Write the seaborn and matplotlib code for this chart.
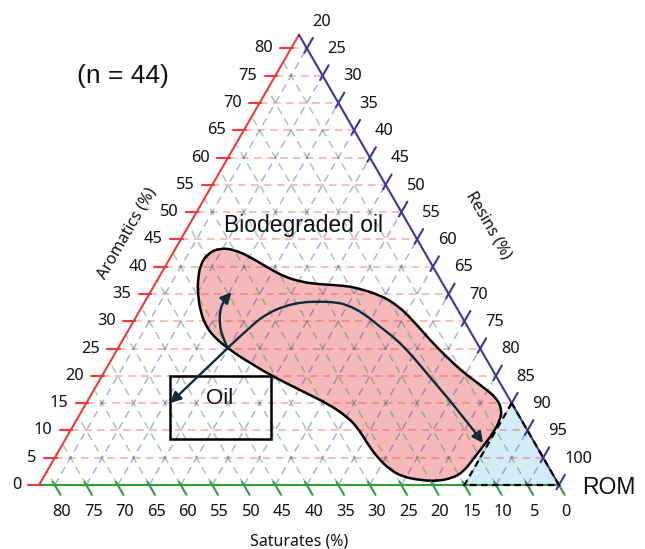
import numpy as np
import matplotlib
matplotlib.use("Agg")
import matplotlib.pyplot as plt
from matplotlib.path import Path
from matplotlib.patches import PathPatch, FancyArrowPatch, Polygon, Rectangle
import seaborn as sns

# ---- data (percent) ----
aro_ticks = [0, 5, 10, 15, 20, 25, 30, 35, 40, 45, 50, 55, 60, 65, 70, 75, 80]
sat_ticks = [80, 75, 70, 65, 60, 55, 50, 45, 40, 35, 30, 25, 20, 15, 10, 5, 0]
res_ticks = [20, 25, 30, 35, 40, 45, 50, 55, 60, 65, 70, 75, 80, 85, 90, 95, 100]

# biodegraded oil field outline (aromatics, saturates)
blob_aro = [37.2, 40.3, 42.5, 43.4, 43.1, 41.6, 39.8, 38.1, 37.2, 36.8, 36.5, 36.1,
            34.8, 33.0, 30.2, 26.6, 23.5, 20.7, 18.0, 15.9, 13.7, 11.9, 9.5, 7.0,
            4.6, 2.4, 1.3, 0.7, 0.9, 1.5, 2.8, 5.1, 7.7, 10.6, 12.5, 14.7, 17.4,
            20.2, 22.4, 23.3, 25.1, 26.9, 29.3, 32.4, 35.4]
blob_sat = [38.7, 36.8, 34.4, 32.1, 29.9, 27.9, 26.3, 24.4, 22.2, 19.8, 15.7, 14.0,
            11.0, 9.2, 8.1, 7.2, 6.1, 4.9, 3.1, 1.9, 2.2, 3.4, 5.7, 8.6,
            11.4, 14.0, 16.2, 19.0, 21.6, 24.0, 25.4, 26.3, 26.6, 26.7, 27.4, 29.0, 32.4,
            35.8, 37.8, 38.7, 40.0, 41.1, 41.5, 40.8, 39.6]

# biodegradation trend arrow
trend_aro = [25.1, 29.3, 31.5, 32.8, 33.5, 33.6, 33.5, 33.0, 31.5, 29.0, 26.6, 23.5,
             19.8, 16.1, 12.5, 9.2, 7.7]
trend_sat = [40.0, 34.1, 30.4, 27.1, 24.0, 21.4, 18.8, 17.1, 15.3, 13.9, 12.4, 11.4,
             10.6, 9.7, 9.0, 8.4, 8.2]

# short upward arrow
up_aro = [25.1, 27.5, 29.9, 31.8, 33.6, 35.3]
up_sat = [40.0, 39.8, 38.9, 37.9, 36.5, 34.3]

# arrow into oil box
oil_arrow_aro = [25.1, 15.0]
oil_arrow_sat = [40.0, 54.2]

# oil box corners (lower-left, upper-right)
oil_box_aro = [8.4, 20.0]
oil_box_sat = [57.5, 35.7]

# ROM field
rom_aro = [15, 0, 0]
rom_sat = [0, 15, 0]

n_samples = 44

# ---- ternary helpers ----
L = 82.5           # side of the plotted sub-triangle (resins >= 17.5)
S3 = np.sqrt(3) / 2


def tern(aro, sat):
    aro = np.asarray(aro, dtype=float)
    sat = np.asarray(sat, dtype=float)
    return L - sat - aro / 2, aro * S3


def smooth_path(xs, ys, closed=False):
    pts = np.column_stack([xs, ys])
    if closed:
        mids = (pts + np.roll(pts, -1, axis=0)) / 2
        verts = [mids[-1]]
        codes = [Path.MOVETO]
        for p, m in zip(pts, mids):
            verts += [p, m]
            codes += [Path.CURVE3, Path.CURVE3]
        verts.append(mids[-1])
        codes.append(Path.CLOSEPOLY)
    else:
        verts = [pts[0]]
        codes = [Path.MOVETO]
        for i in range(1, len(pts) - 1):
            m = (pts[i] + pts[i + 1]) / 2
            verts += [pts[i], m]
            codes += [Path.CURVE3, Path.CURVE3]
        verts.append(pts[-1])
        codes.append(Path.LINETO)
    return Path(verts, codes)


sns.set_theme(style="white")
plt.rcParams["font.family"] = ["Noto Sans", "DejaVu Sans"]

W, H = 645, 549
fig = plt.figure(figsize=(W / 100, H / 100), dpi=100)
ax = fig.add_axes([0, 0, 1, 1])
ax.set_xlim(-6.19, 96.15)
ax.set_ylim(-10.15, 76.95)
ax.axis("off")


def fpx(x, y):
    return x / W, 1 - y / H


red, blue, green = "#f03a3a", "#3b3799", "#2f9c3f"
arrow_col = "#0f2a3a"
dash = (0, (5, 3.5))

# fills
bx, by = tern(blob_aro, blob_sat)
ax.add_patch(PathPatch(smooth_path(bx, by, closed=True), facecolor="#f5b9b9",
                       edgecolor="none", zorder=1))
rx, ry = tern(rom_aro, rom_sat)
ax.add_patch(Polygon(np.column_stack([rx, ry]), closed=True, facecolor="#d4ebf8",
                     edgecolor="none", zorder=1))

# grid
for a in aro_ticks[1:]:
    x0, y0 = tern(a, L - a)
    x1, y1 = tern(a, 0)
    ax.plot([x0, x1], [y0, y1], color="#e83030", alpha=0.4, lw=1.1, ls=dash, zorder=2)
for s in sat_ticks[:-1]:
    x0, y0 = tern(0, s)
    x1, y1 = tern(L - s, s)
    ax.plot([x0, x1], [y0, y1], color="#2a9a3a", alpha=0.45, lw=1.1, ls=dash, zorder=2)
for r in res_ticks[:-1]:
    x0, y0 = tern(0, 100 - r)
    x1, y1 = tern(100 - r, 0)
    ax.plot([x0, x1], [y0, y1], color="#3535c8", alpha=0.4, lw=1.1, ls=dash, zorder=2)

# outlines
ax.add_patch(PathPatch(smooth_path(bx, by, closed=True), facecolor="none",
                       edgecolor="black", lw=1.8, zorder=3))
(ox0, oy0), (ox1, oy1) = [tern(a, s) for a, s in zip(oil_box_aro, oil_box_sat)]
ax.add_patch(Rectangle((ox0, oy0), ox1 - ox0, oy1 - oy0, facecolor="none",
                       edgecolor="black", lw=1.8, zorder=3))

# arrows
tx, ty = tern(trend_aro, trend_sat)
ax.add_patch(FancyArrowPatch(path=smooth_path(tx, ty), arrowstyle="-|>",
                             mutation_scale=16, lw=1.7, color=arrow_col, zorder=4))
ux, uy = tern(up_aro, up_sat)
ax.add_patch(FancyArrowPatch(path=smooth_path(ux, uy), arrowstyle="-|>",
                             mutation_scale=16, lw=1.7, color=arrow_col, zorder=4))
ax_, ay_ = tern(oil_arrow_aro, oil_arrow_sat)
ax.annotate("", xy=(ax_[1], ay_[1]), xytext=(ax_[0], ay_[0]),
            arrowprops=dict(arrowstyle="-|>", mutation_scale=16, lw=1.7,
                            color=arrow_col, shrinkA=0, shrinkB=0), zorder=4)

# triangle edges
cx, cy = tern([0, L, 0, 0], [L, 0, 0, L])
sns.lineplot(x=cx[:2], y=cy[:2], sort=False, color=red, lw=1.5, ax=ax, zorder=5)
sns.lineplot(x=cx[1:3], y=cy[1:3], sort=False, color=blue, lw=1.5, ax=ax, zorder=5)
sns.lineplot(x=[cx[2], cx[0]], y=[cy[2], cy[0]], sort=False, color=green, lw=1.5,
             ax=ax, zorder=5)

# ROM outline on top of the edges
ax.add_patch(Polygon(np.column_stack([rx, ry]), closed=True, facecolor="none",
                     edgecolor="black", lw=1.6, ls=(0, (3, 2)), zorder=6))

# ticks and labels
tick_fs = 11.8
for a in aro_ticks:
    x, y = tern(a, L - a)
    ax.plot([x + 0.3, x - 1.7], [y, y], color=red, lw=1.5, zorder=5)
    ax.text(x - 2.85, y, str(a), ha="right", va="center", fontsize=tick_fs, color="#111111")
for s in sat_ticks:
    x, y = tern(0, s)
    d = np.array([0.5, -S3])
    ax.plot([x - 0.6 * d[0], x + 1.8 * d[0]], [y - 0.6 * d[1], y + 1.8 * d[1]],
            color=green, lw=1.5, zorder=5)
    ax.text(x + 1.1, y - 4.3, str(s), ha="center", va="center", fontsize=tick_fs,
            color="#111111")
for r in res_ticks:
    x, y = tern(100 - r, 0)
    d = np.array([0.5, S3])
    ax.plot([x - 0.8 * d[0], x + 1.9 * d[0]], [y - 0.8 * d[1], y + 1.9 * d[1]],
            color=blue, lw=1.5, zorder=5)
    ax.text(x + 0.8, y + 4.2, str(r), ha="left", va="center", fontsize=tick_fs,
            color="#111111")

# axis titles
fig.text(*fpx(127, 233), "Aromatics (%)", rotation=60, ha="center", va="center",
         fontsize=11.5, color="#111111")
fig.text(*fpx(488, 225), "Resins (%)", rotation=-60, ha="center", va="center",
         fontsize=11.5, color="#111111")
fig.text(*fpx(299, 542), "Saturates (%)", ha="center", va="center",
         fontsize=11.5, color="#111111")

# annotations
ann = dict(family=["Liberation Sans", "DejaVu Sans"], color="#111111")
fig.text(*fpx(123, 76), f"(n = {n_samples})", ha="center", va="center", fontsize=19, **ann)
fig.text(*fpx(303, 226), "Biodegraded oil", ha="center", va="center", fontsize=16.5, **ann)
fig.text(*fpx(220, 398), "Oil", ha="center", va="center", fontsize=16, **ann)
fig.text(*fpx(609, 487), "ROM", ha="center", va="center", fontsize=16.5, **ann)

fig.savefig("out.png", dpi=100)
